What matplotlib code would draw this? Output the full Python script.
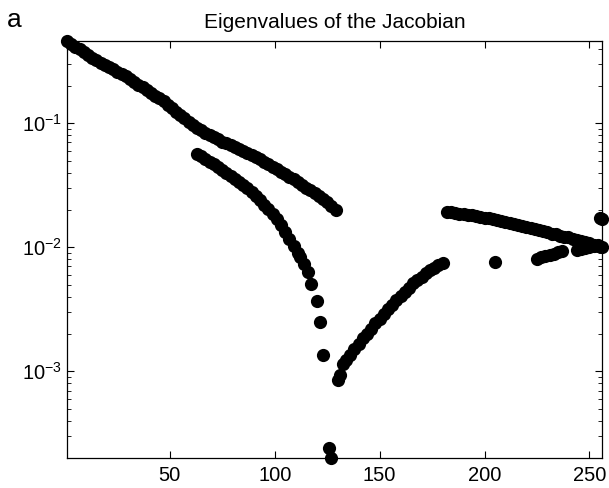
import numpy as np
import matplotlib
matplotlib.use("Agg")
import matplotlib.pyplot as plt
from matplotlib.ticker import LogLocator, LogFormatterSciNotation, NullFormatter

plt.rcParams['font.family'] = ['Liberation Sans', 'DejaVu Sans']
plt.rcParams['mathtext.fontset'] = 'custom'
plt.rcParams['mathtext.rm'] = 'Liberation Sans'
plt.rcParams['mathtext.it'] = 'Liberation Sans:italic'

# upper branch, x = 1..129 (step 2)
x_upper = list(range(1, 130, 2))
y_upper = [0.457, 0.435, 0.413, 0.393, 0.373, 0.355, 0.337, 0.322, 0.308, 0.296,
           0.283, 0.271, 0.259, 0.249, 0.238, 0.226, 0.215, 0.205, 0.195, 0.185,
           0.176, 0.167, 0.159, 0.150, 0.141, 0.132, 0.124, 0.117, 0.110, 0.103,
           0.0968, 0.0912,
           0.0875, 0.0839, 0.0805, 0.0773, 0.0741, 0.0711, 0.0687, 0.0664, 0.0640,
           0.0618, 0.0597, 0.0577, 0.0557, 0.0537, 0.0513, 0.0490, 0.0468, 0.0446,
           0.0426, 0.0406, 0.0387, 0.0370, 0.0352, 0.0334, 0.0318, 0.0302, 0.0288,
           0.0274, 0.0260, 0.0247, 0.0230, 0.0214, 0.0200]

# lower branch dropping towards zero near index 127
x_drop = [63, 65, 67, 69, 71, 73, 75, 77, 79, 81, 83, 85, 87, 89, 91, 93, 95, 97,
          99, 101, 103, 105, 107, 109, 111, 112, 114, 116, 117.5, 120, 121.5, 123,
          126, 127]
y_drop = [0.0566, 0.0540, 0.0513, 0.0489, 0.0466, 0.0444, 0.0422, 0.0399, 0.0377,
          0.0355, 0.0335, 0.0315, 0.0298, 0.0279, 0.0258, 0.0239, 0.0221, 0.0204,
          0.0186, 0.0168, 0.0151, 0.0133, 0.0117, 0.0103, 0.00902, 0.00841,
          0.00733, 0.00631, 0.00501, 0.00372, 0.00251, 0.00135, 0.00024, 0.00020]

# rising branch, index 130..180
x_rise = [130, 131, 132.5, 134, 136, 138, 140, 142, 144, 146, 148, 150, 152, 154,
          156, 158, 160, 162, 164, 166, 168, 170, 172, 174, 176, 178, 180]
y_rise = [0.00085, 0.00093, 0.00115, 0.00123, 0.00136, 0.00150, 0.00166, 0.00184,
          0.00201, 0.00221, 0.00243, 0.00266, 0.00290, 0.00315, 0.00344, 0.00374,
          0.00405, 0.00438, 0.00473, 0.00511, 0.00545, 0.00579, 0.00617, 0.00656,
          0.00686, 0.00716, 0.00745]

# upper right branch, index 182..256
x_right = list(range(182, 257, 2))
y_right = [0.0193, 0.0191, 0.0189, 0.0187, 0.0185, 0.0183, 0.0182, 0.0179, 0.0176,
           0.0173, 0.0171, 0.0168, 0.0166, 0.0163, 0.0160, 0.0157, 0.0154, 0.0151,
           0.0148, 0.0146, 0.0143, 0.0140, 0.0137, 0.0135, 0.0132, 0.0129, 0.0127,
           0.0124, 0.0122, 0.0120, 0.0117, 0.0115, 0.0112, 0.0110, 0.0108, 0.0105,
           0.0103, 0.0101]

# scattered points below the right branch
x_low = [205, 225, 227, 229, 231, 233, 235, 237, 244, 246, 248, 250, 252, 254, 255, 256]
y_low = [0.0076, 0.0080, 0.0083, 0.0085, 0.0087, 0.0089, 0.0091, 0.0093, 0.0095,
         0.0097, 0.0099, 0.0101, 0.0102, 0.0104, 0.0172, 0.0170]

fig = plt.figure(figsize=(6.09, 4.88), dpi=100)
ax = fig.add_axes([0.110, 0.0615, 0.8785, 0.8545])

for xs, ys in [(x_upper, y_upper), (x_drop, y_drop), (x_rise, y_rise),
               (x_right, y_right), (x_low, y_low)]:
    ax.plot(xs, ys, 'o', color='black', markersize=9.5, markeredgewidth=0,
            clip_on=False, zorder=3)

ax.set_yscale('log')
ax.set_xlim(1, 256)
ax.set_ylim(2.0e-4, 0.46)
ax.set_xticks([50, 100, 150, 200, 250])
ax.yaxis.set_major_locator(LogLocator(base=10))
ax.yaxis.set_major_formatter(LogFormatterSciNotation())
ax.yaxis.set_minor_locator(LogLocator(base=10, subs=np.arange(2, 10)))
ax.yaxis.set_minor_formatter(NullFormatter())

ax.tick_params(which='both', direction='in', top=True, right=True, labelsize=14.5)
ax.tick_params(which='major', length=5, width=0.8)
ax.tick_params(which='minor', length=3, width=0.6)
ax.tick_params(axis='x', pad=6)
for s in ax.spines.values():
    s.set_linewidth(0.9)

ax.set_title("Eigenvalues of the Jacobian", fontsize=15, pad=9)
fig.text(0.012, 0.958, "a", fontsize=19, va='center', ha='left')

fig.savefig("out.png", dpi=100)
